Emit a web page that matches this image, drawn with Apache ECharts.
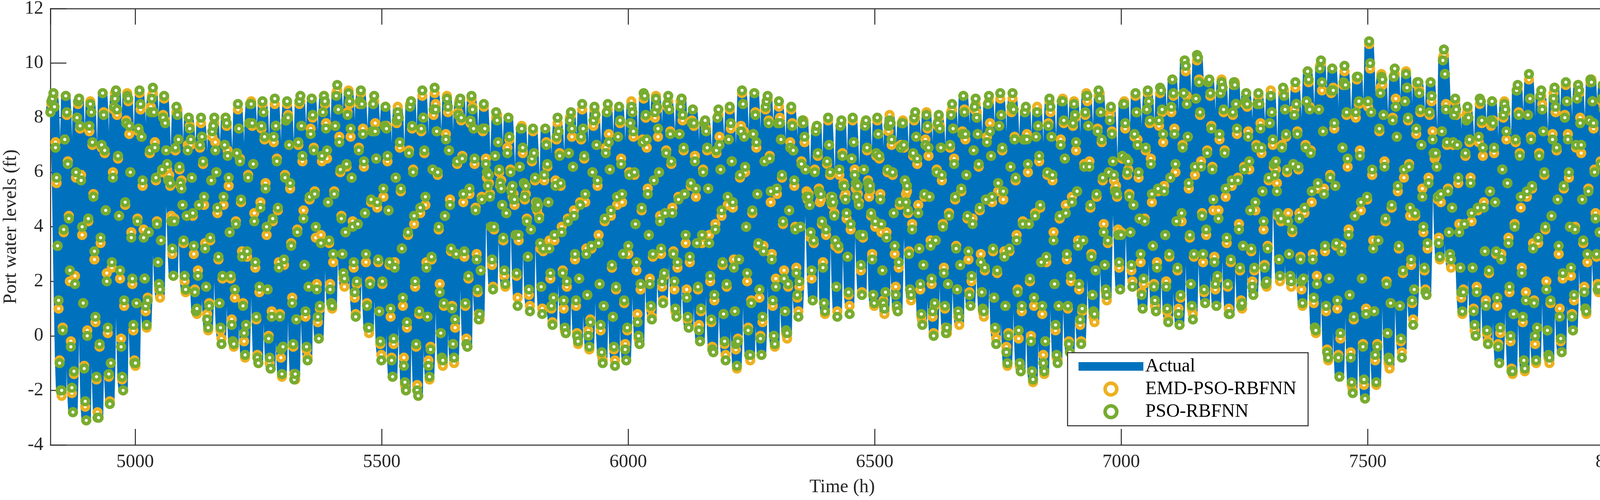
<!DOCTYPE html>
<html>
<head>
<meta charset="utf-8">
<title>Port water levels</title>
<script src="https://cdn.jsdelivr.net/npm/echarts@6.0.0/dist/echarts.min.js"></script>
<style>
  html, body { margin: 0; padding: 0; background: #fff; }
  #chart { width: 4200px; height: 1280px; }
</style>
</head>
<body>
<div id="chart"></div>
<script>
// time base of the test period (h): 12 readings per tidal day
const startHour = 4828;
const stepHours = 2.0783;
const xRange = [4828, 8040];
const yRange = [-4, 12];
const yStep = 2;

const actualLevels = [
  8.2,8.5,8.7,
  8.8,8.4,7.1,5.6,3.3,1.0,-0.9,-2.0,-2.2,0.3,3.8,7.2,
  8.8,8.1,6.4,4.4,2.0,-0.2,-2.1,-2.8,-1.4,2.2,5.8,8.0,
  8.5,8.7,7.6,5.9,3.7,1.2,-1.1,-2.6,-3.1,0.2,4.2,7.5,
  8.6,8.2,7.0,5.2,2.8,0.5,-1.6,-2.8,-3.0,-0.4,3.4,6.9,
  8.9,8.2,6.7,4.6,2.3,0.1,-1.5,-2.4,-1.0,2.5,6.0,8.3,
  8.9,9.0,8.1,6.5,4.4,2.1,-0.1,-1.6,-2.0,1.1,4.8,7.9,
  8.9,8.6,7.4,6.0,3.8,1.9,0.2,-0.9,-1.1,1.2,4.3,7.5,
  8.9,8.3,7.3,5.5,3.9,2.1,0.9,0.3,1.4,3.8,6.7,8.4,
  8.8,8.9,8.2,7.1,5.7,4.2,2.7,1.7,1.4,3.5,6.0,8.1,
  8.7,7.9,6.8,6.1,5.8,5.9,5.5,4.4,3.0,2.2,4.3,6.8,
  8.2,8.3,7.2,6.1,5.5,5.7,4.8,3.4,2.0,1.6,4.4,7.0,
  8.0,7.7,7.0,5.8,4.4,3.0,1.7,0.9,0.8,2.4,4.8,6.9,
  7.8,7.3,6.3,4.8,3.4,1.8,0.8,0.2,1.2,3.5,5.7,7.3,
  7.7,7.8,7.1,6.0,4.5,2.8,1.2,0.2,-0.1,2.1,4.8,7.0,
  8.0,7.7,6.8,5.5,3.8,2.1,0.6,-0.2,-0.4,1.4,4.2,6.7,
  8.3,7.6,6.5,4.9,3.1,1.2,-0.2,-0.8,0.4,2.9,5.9,7.8,
  8.5,8.6,7.7,6.3,4.5,2.5,0.6,-0.7,-1.0,1.6,4.9,7.6,
  8.5,8.2,7.2,5.6,3.7,1.7,0.0,-1.0,-1.2,0.9,4.2,7.1,
  8.5,7.7,6.5,4.6,2.7,0.8,-0.8,-1.5,-0.4,2.6,5.9,7.9,
  8.5,8.1,7.0,5.4,3.4,1.4,-0.4,-1.4,-1.6,0.6,3.9,7.0,
  8.5,8.6,7.7,6.4,4.6,2.6,0.7,-0.5,-0.8,1.8,5.0,7.6,
  8.7,8.0,6.9,5.3,3.6,1.9,0.5,-0.1,1.0,3.7,6.4,8.2,
  8.8,8.5,7.8,6.5,4.9,3.4,1.9,1.2,1.0,2.7,5.3,7.7,
  8.9,9.0,8.3,7.3,6.0,4.4,3.0,2.1,1.8,3.8,6.2,8.2,
  9.0,8.5,7.3,5.8,4.2,2.5,1.4,0.8,1.9,4.1,6.9,8.5,
  8.9,8.5,7.6,6.2,4.5,2.7,1.2,0.3,0.1,2.0,4.9,7.5,
  8.5,8.6,7.8,6.5,4.7,2.7,0.9,-0.3,-0.7,1.9,5.1,7.7,
  8.4,7.7,6.4,4.6,2.6,0.7,-0.8,-1.5,-0.3,2.7,5.8,7.8,
  8.4,8.0,6.9,5.3,3.2,1.1,-0.8,-1.8,-2.0,0.3,3.7,6.8,
  8.5,8.6,7.6,6.1,4.1,1.8,-0.4,-1.8,-2.2,0.8,4.5,7.5,
  8.8,8.0,6.7,4.8,2.7,0.7,-0.9,-1.6,-0.4,2.8,6.1,8.1,
  8.9,8.5,7.5,5.9,3.9,1.9,0.1,-0.9,-1.1,1.1,4.4,7.4,
  8.8,8.2,6.8,5.0,3.1,1.1,-0.3,-1.0,0.3,3.0,6.3,8.2,
  8.6,8.7,7.9,6.6,4.9,2.9,1.1,-0.1,-0.4,2.1,5.2,7.8,
  8.7,8.4,7.6,6.3,4.7,3.0,1.6,0.8,0.6,2.4,5.1,7.5,
  8.4,7.6,6.5,5.8,5.5,5.6,5.2,4.0,2.6,1.8,3.9,6.6,
  8.0,8.1,7.1,6.0,5.5,5.7,4.8,3.5,2.2,1.8,4.5,6.9,
  8.0,7.2,6.1,5.4,5.1,5.2,4.8,3.7,2.2,1.4,3.5,6.2,
  7.6,7.7,6.7,5.6,5.0,5.2,4.3,2.9,1.5,1.1,3.9,6.4,
  7.5,6.7,5.7,4.9,4.6,4.8,4.4,3.2,1.8,1.0,3.1,5.7,
  7.6,7.1,6.2,4.9,3.5,2.1,1.0,0.5,1.4,3.5,5.7,7.2,
  7.8,7.5,6.7,5.5,4.0,2.4,1.0,0.2,0.1,1.8,4.3,6.7,
  8.0,8.1,7.3,6.2,4.6,2.8,1.1,0.1,-0.3,2.1,4.9,7.2,
  8.3,7.6,6.5,4.9,3.2,1.5,0.2,-0.5,0.6,3.2,6.0,7.7,
  8.3,7.9,7.0,5.5,3.7,1.9,0.2,-0.7,-0.9,1.1,4.2,6.9,
  8.2,8.3,7.4,6.1,4.4,2.5,0.7,-0.5,-0.9,1.7,4.8,7.3,
  8.4,7.8,6.5,4.9,3.0,1.2,-0.3,-0.9,0.2,3.0,6.0,7.8,
  8.6,8.2,7.3,5.9,4.1,2.4,0.8,-0.1,-0.3,1.7,4.6,7.2,
  8.7,8.8,8.0,6.9,5.4,3.7,2.1,1.0,0.7,2.9,5.7,8.0,
  8.8,8.3,7.3,6.0,4.4,3.0,1.8,1.3,2.2,4.5,6.8,8.4,
  8.6,8.3,7.5,6.3,4.7,3.1,1.7,0.9,0.7,2.5,5.1,7.4,
  8.6,8.7,7.9,6.8,5.2,3.4,1.7,0.6,0.3,2.7,5.5,7.9,
  8.3,7.7,6.6,5.1,3.4,1.7,0.4,-0.2,0.9,3.4,6.1,7.8,
  7.9,7.6,6.8,5.4,3.7,2.0,0.5,-0.4,-0.6,1.3,4.1,6.7,
  8.0,8.1,7.3,6.1,4.4,2.6,0.8,-0.3,-0.7,1.8,4.8,7.2,
  8.3,7.6,6.4,4.7,2.8,0.9,-0.5,-1.2,-0.1,2.8,5.8,7.7,
  8.9,8.5,7.5,6.0,4.0,2.0,0.3,-0.7,-0.9,1.3,4.5,7.4,
  8.9,8.2,6.9,5.2,3.3,1.4,0.0,-0.7,0.5,3.3,6.4,8.3,
  8.6,8.7,7.9,6.6,4.9,3.0,1.1,0.0,-0.4,2.1,5.2,7.8,
  8.4,8.0,7.2,5.8,4.1,2.4,0.9,0.1,-0.1,1.8,4.6,7.1,
  8.3,7.8,6.8,5.5,4.0,2.5,1.4,0.9,1.8,4.0,6.4,7.8,
  7.9,7.1,6.1,5.3,5.0,5.2,4.8,3.6,2.1,1.3,3.4,6.1,
  7.6,7.7,6.6,5.4,4.9,5.0,4.1,2.7,1.2,0.8,3.7,6.3,
  7.9,7.0,5.9,5.1,4.8,4.9,4.5,3.3,1.8,0.9,3.2,5.9,
  7.7,7.8,6.7,5.6,5.1,5.2,4.3,2.9,1.5,1.1,3.9,6.5,
  7.9,7.1,6.1,5.4,5.1,5.2,4.9,3.7,2.4,1.6,3.6,6.1,
  7.8,7.9,6.8,5.7,5.1,5.3,4.4,3.0,1.5,1.1,4.0,6.6,
  7.9,7.4,6.5,5.2,3.8,2.4,1.3,0.8,1.6,3.8,6.0,7.5,
  8.1,7.8,7.0,5.9,4.5,3.0,1.8,1.0,0.9,2.5,4.8,7.0,
  7.8,7.9,6.9,5.7,5.2,5.3,4.5,3.1,1.7,1.3,4.1,6.6,
  7.9,8.0,7.3,6.3,4.8,3.2,1.7,0.7,0.5,2.6,5.1,7.2,
  8.2,7.6,6.6,5.1,3.5,1.9,0.7,0.1,1.1,3.5,6.1,7.7,
  8.0,7.7,6.9,5.7,4.1,2.5,1.0,0.3,0.1,1.9,4.5,6.9,
  8.2,8.3,7.6,6.5,5.0,3.3,1.7,0.7,0.4,2.6,5.3,7.5,
  8.8,8.3,7.2,5.9,4.3,2.8,1.6,1.1,2.0,4.3,6.8,8.3,
  8.5,8.2,7.4,6.2,4.6,3.0,1.6,0.9,0.7,2.4,5.0,7.3,
  8.5,8.6,7.8,6.6,4.9,3.1,1.4,0.2,-0.1,2.3,5.3,7.7,
  8.7,8.1,6.8,5.0,3.1,1.1,-0.4,-1.1,0.1,3.1,6.2,8.2,
  8.7,8.3,7.3,5.7,3.7,1.7,-0.1,-1.1,-1.3,0.9,4.2,7.2,
  8.2,8.3,7.4,6.0,4.1,2.0,0.0,-1.3,-1.7,1.1,4.5,7.3,
  8.4,7.7,6.4,4.7,2.7,0.8,-0.7,-1.4,-0.2,2.7,5.9,7.8,
  8.6,8.2,7.3,5.7,3.8,1.9,0.2,-0.8,-0.9,1.1,4.3,7.2,
  8.6,8.7,7.8,6.5,4.8,2.8,1.0,-0.2,-0.6,2.0,5.1,7.7,
  8.6,8.0,6.8,5.3,3.5,1.7,0.4,-0.2,0.9,3.5,6.3,8.1,
  8.9,8.6,7.7,6.4,4.7,3.0,1.5,0.7,0.5,2.4,5.1,7.6,
  8.8,8.9,8.2,7.1,5.7,4.1,2.6,1.6,1.3,3.4,6.0,8.1,
  8.3,7.5,6.4,5.7,5.4,5.5,5.1,3.9,2.5,1.7,3.8,6.5,
  8.5,8.6,7.6,6.5,5.9,6.1,5.2,3.8,2.4,2.0,4.8,7.3,
  8.8,8.2,7.2,5.8,4.3,2.7,1.6,1.0,1.9,4.3,6.8,8.3,
  8.9,8.6,7.8,6.5,4.9,3.3,1.9,1.1,0.9,2.7,5.3,7.7,
  8.9,9.0,8.2,7.1,5.5,3.7,2.0,0.9,0.6,2.9,5.8,8.2,
  9.4,8.8,7.6,6.0,4.2,2.4,1.0,0.4,1.4,4.2,7.0,8.9,
  10.1,9.7,8.8,7.3,5.4,3.6,1.9,1.0,0.8,2.9,5.9,8.7,
  10.1,10.2,9.4,8.1,6.4,4.5,2.7,1.6,1.2,3.7,6.8,9.3,
  9.4,8.8,7.7,6.2,4.6,2.9,1.7,1.1,2.1,4.6,7.2,8.9,
  9.4,9.1,8.2,6.8,5.1,3.4,1.8,1.0,0.8,2.7,5.5,8.1,
  9.2,9.3,8.5,7.4,5.8,4.1,2.4,1.3,1.0,3.3,6.2,8.5,
  8.9,8.4,7.5,6.1,4.6,3.1,2.0,1.5,2.4,4.6,7.0,8.5,
  8.8,8.5,7.8,6.7,5.3,3.9,2.6,1.9,1.8,3.3,5.7,7.8,
  9.0,8.2,7.0,6.2,5.9,6.1,5.6,4.4,2.8,2.0,4.2,7.0,
  8.9,9.0,8.3,7.3,6.0,4.5,3.0,2.1,1.8,3.8,6.3,8.3,
  9.1,8.5,7.5,6.1,4.5,2.9,1.7,1.1,2.1,4.5,7.0,8.6,
  9.7,9.3,8.4,6.8,4.9,3.0,1.2,0.3,0.1,2.2,5.4,8.3,
  9.9,10.0,9.0,7.5,5.4,3.1,0.9,-0.5,-0.9,2.1,5.9,8.9,
  9.8,9.1,7.6,5.5,3.3,1.0,-0.7,-1.5,-0.1,3.3,6.9,9.2,
  9.7,9.2,8.1,6.2,3.9,1.5,-0.6,-1.8,-2.0,0.6,4.4,8.0,
  9.4,9.5,8.5,6.8,4.6,2.1,-0.3,-1.8,-2.3,1.0,5.0,8.4,
  10.7,9.8,8.2,5.9,3.5,0.9,-0.9,-1.8,-0.3,3.5,7.5,9.1,
  9.6,9.2,8.1,6.4,4.2,2.0,0.1,-1.0,-1.2,1.2,4.7,8.0,
  9.5,9.6,8.7,7.3,5.3,3.2,1.1,-0.2,-0.6,2.3,5.8,8.6,
  9.7,9.1,7.9,6.3,4.4,2.6,1.2,0.6,1.7,4.4,7.4,9.2,
  9.3,9.0,8.2,7.0,5.4,3.8,2.4,1.7,1.5,3.2,5.8,8.1,
  9.3,8.6,7.5,6.7,6.5,6.6,6.2,5.0,3.6,2.8,4.9,7.5,
  10.2,10.3,9.6,8.5,7.0,5.4,3.8,2.8,2.5,4.7,7.0,8.2,
  8.6,8.1,7.0,5.6,4.1,2.5,1.4,0.8,1.7,4.1,6.6,8.1,
  8.3,8.0,7.1,5.8,4.2,2.5,1.0,0.2,0.0,1.8,4.6,7.1,
  8.5,8.6,7.8,6.6,4.9,3.1,1.3,0.1,-0.2,2.3,5.3,7.7,
  8.6,7.9,6.7,4.9,3.0,1.1,-0.3,-1.0,0.1,3.0,6.1,8.0,
  8.6,8.2,7.2,5.6,3.6,1.6,-0.2,-1.2,-1.4,0.8,4.1,7.1,
  9.0,9.1,8.2,6.7,4.7,2.5,0.5,-0.9,-1.3,1.6,5.1,8.1,
  9.4,8.7,7.3,5.4,3.4,1.3,-0.3,-1.0,0.3,3.4,6.7,8.8,
  8.8,8.5,7.5,5.9,3.9,2.0,0.2,-0.8,-1.0,1.2,4.4,7.4,
  8.9,9.1,8.2,6.8,5.0,3.0,1.0,-0.2,-0.6,2.1,5.4,8.1,
  9.2,8.6,7.4,5.8,4.0,2.2,0.8,0.2,1.3,4.0,6.9,8.7,
  9.2,8.9,8.0,6.7,5.0,3.4,1.8,1.0,0.8,2.7,5.4,7.9,
  9.3,9.4,8.6,7.6,6.1,4.5,2.9,1.9,1.6,3.8,6.4,8.6,
  9.2,8.4,7.4,6.5,6.3,6.4,6.0,4.8,3.3,2.5,4.7,7.4,
  9.3,8.8,7.8,6.5,5.1,3.6,2.5,2.0,2.9,5.1,7.4,8.9,
  9.5,9.1,8.1,6.5,4.4,2.2,0.2
];

// PSO-RBFNN prediction minus measured level (ft), same rows
const psoOffsets = [
  0,.1,0,
  .1,0,-.2,.2,0,.3,-.1,0,.2,-.1,.1,0,
  0,.1,-.1,-.1,.4,-.2,.2,0,.1,-.3,.2,0,
  .1,0,.1,-.2,.3,0,-.1,.2,0,-.2,.1,.2,
  -.1,0,.1,-.1,.3,.2,.1,-.2,0,.1,.2,.1,
  0,-.1,.1,0,-.3,.2,.1,-.1,0,.2,-.2,.1,
  -.2,0,.2,.1,0,.3,-.3,.1,0,.2,.1,-.1,
  -.1,.1,.3,0,-.2,.2,.2,-.1,.1,0,-.1,.1,
  .1,.2,0,.2,-.3,0,.2,.1,-.1,0,.1,-.2,
  -.1,.2,0,-.2,.1,-.1,0,.2,.3,0,.1,-.1,
  .1,-.1,0,.2,-.1,-.2,.1,-.2,.2,0,-.1,.1,
  .2,-.2,0,.1,.1,-.3,0,.1,.2,.1,0,-.2,
  0,-.1,.2,0,.1,.3,-.1,0,.2,-.2,0,.1,
  .2,0,.1,.3,-.2,0,-.2,.1,-.1,.1,0,.2,
  0,.2,-.3,0,.2,.1,0,.1,-.2,.1,.3,0,
  0,.1,-.2,.3,0,.1,-.2,0,.1,.3,-.1,0,
  .2,0,-.1,.1,-.2,-.1,.3,.1,0,.2,-.1,0,
  0,-.1,.1,0,-.3,.2,.1,-.1,0,.2,-.2,.1,
  .1,0,.1,-.2,.3,0,-.1,.2,0,-.2,.1,.2,
  .2,0,-.1,.1,-.2,-.1,.3,.1,0,.2,-.1,0,
  .1,-.1,0,.2,-.1,-.2,.1,-.2,.2,0,-.1,.1,
  .1,.2,0,.2,-.3,0,.2,.1,-.1,0,.1,-.2,
  0,.1,-.1,-.1,.4,-.2,.2,0,.1,-.3,.2,0,
  0,.1,-.2,.3,0,.1,-.2,0,.1,.3,-.1,0,
  -.1,.2,0,-.2,.1,-.1,0,.2,.3,0,.1,-.1,
  -.1,.1,.3,0,-.2,.2,.2,-.1,.1,0,-.1,.1,
  .1,0,-.2,.2,0,.3,-.1,0,.2,-.1,.1,0,
  0,.2,-.3,0,.2,.1,0,.1,-.2,.1,.3,0,
  0,-.1,.2,0,.1,.3,-.1,0,.2,-.2,0,.1,
  -.2,0,.2,.1,0,.3,-.3,.1,0,.2,.1,-.1,
  -.1,0,.1,-.1,.3,.2,.1,-.2,0,.1,.2,.1,
  .2,0,.1,.3,-.2,0,-.2,.1,-.1,.1,0,.2,
  .2,-.2,0,.1,.1,-.3,0,.1,.2,.1,0,-.2,
  -.1,.2,0,-.2,.1,-.1,0,.2,.3,0,.1,-.1,
  -.1,0,.1,-.1,.3,.2,.1,-.2,0,.1,.2,.1,
  .1,-.1,0,.2,-.1,-.2,.1,-.2,.2,0,-.1,.1,
  .1,0,-.2,.2,0,.3,-.1,0,.2,-.1,.1,0,
  .2,-.2,0,.1,.1,-.3,0,.1,.2,.1,0,-.2,
  0,.1,-.1,-.1,.4,-.2,.2,0,.1,-.3,.2,0,
  0,-.1,.2,0,.1,.3,-.1,0,.2,-.2,0,.1,
  .1,0,.1,-.2,.3,0,-.1,.2,0,-.2,.1,.2,
  0,-.1,.1,0,-.3,.2,.1,-.1,0,.2,-.2,.1,
  .2,0,-.1,.1,-.2,-.1,.3,.1,0,.2,-.1,0,
  -.1,.1,.3,0,-.2,.2,.2,-.1,.1,0,-.1,.1,
  .2,0,.1,.3,-.2,0,-.2,.1,-.1,.1,0,.2,
  .1,.2,0,.2,-.3,0,.2,.1,-.1,0,.1,-.2,
  0,.2,-.3,0,.2,.1,0,.1,-.2,.1,.3,0,
  0,.1,-.2,.3,0,.1,-.2,0,.1,.3,-.1,0,
  -.2,0,.2,.1,0,.3,-.3,.1,0,.2,.1,-.1,
  .2,0,.1,.3,-.2,0,-.2,.1,-.1,.1,0,.2,
  -.1,.1,.3,0,-.2,.2,.2,-.1,.1,0,-.1,.1,
  .2,0,-.1,.1,-.2,-.1,.3,.1,0,.2,-.1,0,
  -.2,0,.2,.1,0,.3,-.3,.1,0,.2,.1,-.1,
  0,.1,-.2,.3,0,.1,-.2,0,.1,.3,-.1,0,
  0,-.1,.1,0,-.3,.2,.1,-.1,0,.2,-.2,.1,
  0,.2,-.3,0,.2,.1,0,.1,-.2,.1,.3,0,
  .1,.2,0,.2,-.3,0,.2,.1,-.1,0,.1,-.2,
  .1,0,-.2,.2,0,.3,-.1,0,.2,-.1,.1,0,
  0,-.1,.2,0,.1,.3,-.1,0,.2,-.2,0,.1,
  0,.1,-.1,-.1,.4,-.2,.2,0,.1,-.3,.2,0,
  .2,-.2,0,.1,.1,-.3,0,.1,.2,.1,0,-.2,
  .1,-.1,0,.2,-.1,-.2,.1,-.2,.2,0,-.1,.1,
  -.1,.2,0,-.2,.1,-.1,0,.2,.3,0,.1,-.1,
  -.1,0,.1,-.1,.3,.2,.1,-.2,0,.1,.2,.1,
  .1,0,.1,-.2,.3,0,-.1,.2,0,-.2,.1,.2,
  0,.1,-.1,-.1,.4,-.2,.2,0,.1,-.3,.2,0,
  .1,0,-.2,.2,0,.3,-.1,0,.2,-.1,.1,0,
  -.1,0,.1,-.1,.3,.2,.1,-.2,0,.1,.2,.1,
  .1,0,.1,-.2,.3,0,-.1,.2,0,-.2,.1,.2,
  -.2,0,.2,.1,0,.3,-.3,.1,0,.2,.1,-.1,
  0,-.1,.1,0,-.3,.2,.1,-.1,0,.2,-.2,.1,
  .1,.2,0,.2,-.3,0,.2,.1,-.1,0,.1,-.2,
  -.1,.1,.3,0,-.2,.2,.2,-.1,.1,0,-.1,.1,
  .1,-.1,0,.2,-.1,-.2,.1,-.2,.2,0,-.1,.1,
  -.1,.2,0,-.2,.1,-.1,0,.2,.3,0,.1,-.1,
  0,-.1,.2,0,.1,.3,-.1,0,.2,-.2,0,.1,
  .2,-.2,0,.1,.1,-.3,0,.1,.2,.1,0,-.2,
  0,.2,-.3,0,.2,.1,0,.1,-.2,.1,.3,0,
  .2,0,.1,.3,-.2,0,-.2,.1,-.1,.1,0,.2,
  .2,0,-.1,.1,-.2,-.1,.3,.1,0,.2,-.1,0,
  0,.1,-.2,.3,0,.1,-.2,0,.1,.3,-.1,0,
  -.2,0,.2,.1,0,.3,-.3,.1,0,.2,.1,-.1,
  .1,.2,0,.2,-.3,0,.2,.1,-.1,0,.1,-.2,
  0,-.1,.1,0,-.3,.2,.1,-.1,0,.2,-.2,.1,
  -.1,.1,.3,0,-.2,.2,.2,-.1,.1,0,-.1,.1,
  -.1,.2,0,-.2,.1,-.1,0,.2,.3,0,.1,-.1,
  .2,-.2,0,.1,.1,-.3,0,.1,.2,.1,0,-.2,
  .1,-.1,0,.2,-.1,-.2,.1,-.2,.2,0,-.1,.1,
  0,-.1,.2,0,.1,.3,-.1,0,.2,-.2,0,.1,
  .1,0,-.2,.2,0,.3,-.1,0,.2,-.1,.1,0,
  .1,0,.1,-.2,.3,0,-.1,.2,0,-.2,.1,.2,
  .2,0,.1,.3,-.2,0,-.2,.1,-.1,.1,0,.2,
  0,.1,-.2,.3,0,.1,-.2,0,.1,.3,-.1,0,
  0,.2,-.3,0,.2,.1,0,.1,-.2,.1,.3,0,
  .2,0,-.1,.1,-.2,-.1,.3,.1,0,.2,-.1,0,
  0,.1,-.1,-.1,.4,-.2,.2,0,.1,-.3,.2,0,
  -.1,0,.1,-.1,.3,.2,.1,-.2,0,.1,.2,.1,
  .1,-.1,0,.2,-.1,-.2,.1,-.2,.2,0,-.1,.1,
  0,.1,-.2,.3,0,.1,-.2,0,.1,.3,-.1,0,
  .1,0,-.2,.2,0,.3,-.1,0,.2,-.1,.1,0,
  -.2,0,.2,.1,0,.3,-.3,.1,0,.2,.1,-.1,
  .2,-.2,0,.1,.1,-.3,0,.1,.2,.1,0,-.2,
  .2,0,-.1,.1,-.2,-.1,.3,.1,0,.2,-.1,0,
  0,.1,-.1,-.1,.4,-.2,.2,0,.1,-.3,.2,0,
  -.1,.1,.3,0,-.2,.2,.2,-.1,.1,0,-.1,.1,
  0,-.1,.2,0,.1,.3,-.1,0,.2,-.2,0,.1,
  .2,0,.1,.3,-.2,0,-.2,.1,-.1,.1,0,.2,
  .1,0,.1,-.2,.3,0,-.1,.2,0,-.2,.1,.2,
  .1,.2,0,.2,-.3,0,.2,.1,-.1,0,.1,-.2,
  -.1,.2,0,-.2,.1,-.1,0,.2,.3,0,.1,-.1,
  0,.2,-.3,0,.2,.1,0,.1,-.2,.1,.3,0,
  -.1,0,.1,-.1,.3,.2,.1,-.2,0,.1,.2,.1,
  0,-.1,.1,0,-.3,.2,.1,-.1,0,.2,-.2,.1,
  0,.2,-.3,0,.2,.1,0,.1,-.2,.1,.3,0,
  -.1,.2,0,-.2,.1,-.1,0,.2,.3,0,.1,-.1,
  .1,.2,0,.2,-.3,0,.2,.1,-.1,0,.1,-.2,
  .1,0,.1,-.2,.3,0,-.1,.2,0,-.2,.1,.2,
  .2,0,.1,.3,-.2,0,-.2,.1,-.1,.1,0,.2,
  0,-.1,.2,0,.1,.3,-.1,0,.2,-.2,0,.1,
  -.1,.1,.3,0,-.2,.2,.2,-.1,.1,0,-.1,.1,
  0,.1,-.1,-.1,.4,-.2,.2,0,.1,-.3,.2,0,
  .2,0,-.1,.1,-.2,-.1,.3,.1,0,.2,-.1,0,
  .2,-.2,0,.1,.1,-.3,0,.1,.2,.1,0,-.2,
  -.2,0,.2,.1,0,.3,-.3,.1,0,.2,.1,-.1,
  .1,0,-.2,.2,0,.3,-.1,0,.2,-.1,.1,0,
  0,.1,-.2,.3,0,.1,-.2,0,.1,.3,-.1,0,
  .1,-.1,0,.2,-.1,-.2,.1,-.2,.2,0,-.1,.1,
  0,-.1,.1,0,-.3,.2,.1,-.1,0,.2,-.2,.1,
  -.1,0,.1,-.1,.3,.2,.1,-.2,0,.1,.2,.1,
  0,.1,-.2,.2,.1,0,.1
];

const seriesNames = ['Actual', 'EMD-PSO-RBFNN', 'PSO-RBFNN'];
const seriesColors = ['#0072BD', '#EDB120', '#77AC30'];

if (psoOffsets.length !== actualLevels.length) {
  console.warn('length mismatch', actualLevels.length, psoOffsets.length);
}

const hours = actualLevels.map((_, i) => startHour + i * stepHours);
const actualData = actualLevels.map((v, i) => [hours[i], v]);
// the EMD model sits on the measured curve at this scale
const emdData = actualData;
const psoData = actualLevels.map((v, i) => [hours[i], +(v + (psoOffsets[i] || 0)).toFixed(2)]);

const axisColor = '#262626';
const font = 'Liberation Serif';
const chart = echarts.init(document.getElementById('chart'), null, { renderer: 'canvas' });

const tickStyle = { show: true, inside: true, length: 41, lineStyle: { color: axisColor, width: 2.5 } };
const lineStyleAxis = { show: true, onZero: false, lineStyle: { color: axisColor, width: 2.5 } };
const labelStyle = { fontFamily: font, fontSize: 48, color: axisColor };

const xBase = {
  type: 'value', min: xRange[0], max: xRange[1], splitNumber: 6,
  axisLine: lineStyleAxis, axisTick: tickStyle, splitLine: { show: false }
};
const yBase = {
  type: 'value', min: yRange[0], max: yRange[1], interval: yStep,
  axisLine: lineStyleAxis, axisTick: tickStyle, splitLine: { show: false }
};

const markerSeries = (idx, data) => ({
  name: seriesNames[idx], type: 'scatter', data: data, z: 2 + idx,
  symbol: 'circle', symbolSize: 17, silent: true, large: false,
  itemStyle: { color: '#fff', borderColor: seriesColors[idx], borderWidth: 9, opacity: 1 }
});

chart.setOption({
  animation: false,
  backgroundColor: '#fff',
  grid: { left: 129, right: 17, top: 22, bottom: 141, containLabel: false, outerBoundsMode: 'none' },
  xAxis: [
    Object.assign({}, xBase, {
      position: 'bottom',
      name: 'Time (h)', nameLocation: 'middle', nameGap: 84,
      nameTextStyle: labelStyle,
      axisLabel: Object.assign({ margin: 20, showMinLabel: false, showMaxLabel: false,
        formatter: v => String(v) }, labelStyle)
    }),
    Object.assign({}, xBase, { position: 'top', axisLabel: { show: false } })
  ],
  yAxis: [
    Object.assign({}, yBase, {
      position: 'left',
      name: 'Port water levels (ft)', nameLocation: 'middle', nameGap: 74,
      nameTextStyle: labelStyle,
      axisLabel: Object.assign({ margin: 18, formatter: v => String(v) }, labelStyle)
    }),
    Object.assign({}, yBase, { position: 'right', axisLabel: { show: false } })
  ],
  legend: {
    orient: 'vertical', left: 2733, top: 903, z: 10,
    padding: [11, 30, 12, 17],
    itemWidth: 166, itemHeight: 30, itemGap: 10,
    selectedMode: false,
    backgroundColor: '#fff', borderColor: axisColor, borderWidth: 2.5, borderRadius: 0,
    textStyle: { fontFamily: font, fontSize: 48, color: '#000' },
    lineStyle: { width: 22, cap: 'butt' },
    itemStyle: { borderWidth: 9 },
    data: [
      { name: seriesNames[0], itemStyle: { opacity: 0 } },
      { name: seriesNames[1] },
      { name: seriesNames[2] }
    ]
  },
  series: [
    {
      name: seriesNames[0], type: 'line', data: actualData, z: 1,
      symbol: 'none', showSymbol: false, silent: true,
      lineStyle: { color: seriesColors[0], width: 24, cap: 'round', join: 'round' },
      itemStyle: { color: seriesColors[0] }
    },
    markerSeries(1, emdData),
    markerSeries(2, psoData)
  ]
});
</script>
</body>
</html>
